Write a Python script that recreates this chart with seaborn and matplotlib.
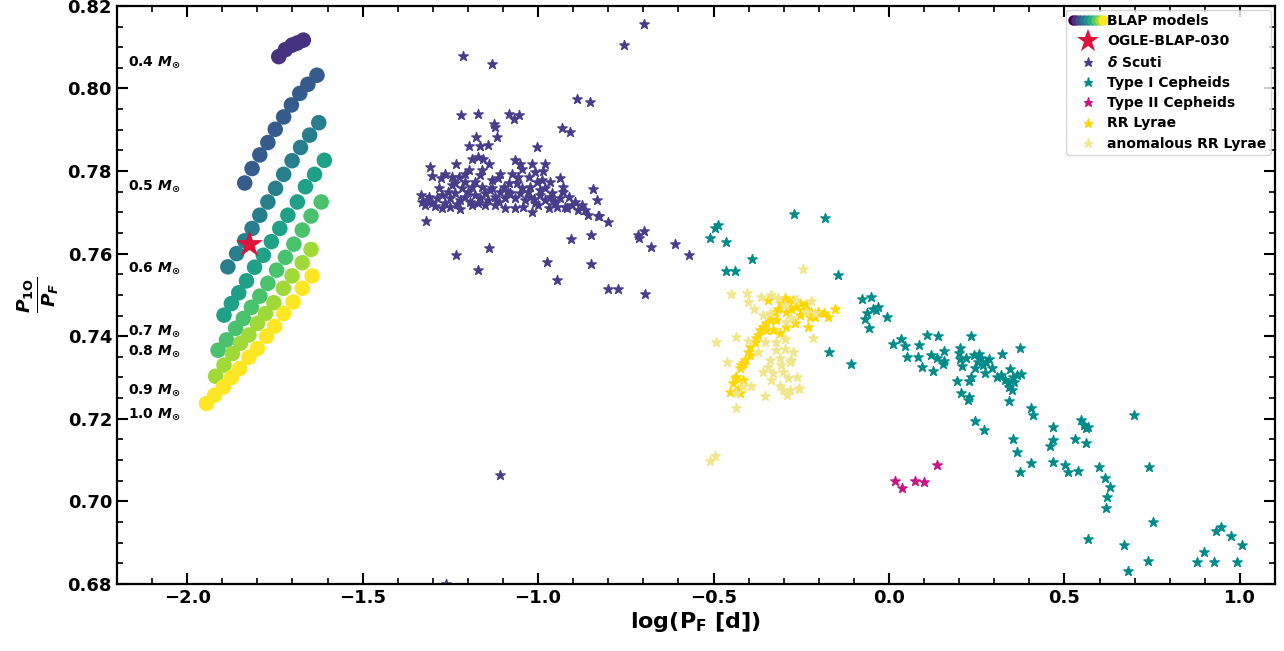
import numpy as np
import pandas as pd
import seaborn as sns
import matplotlib
matplotlib.use("Agg")
import matplotlib.pyplot as plt
from matplotlib.lines import Line2D
from matplotlib.legend_handler import HandlerTuple
from matplotlib.ticker import MultipleLocator


# BLAP model tracks, (log P_F, P_1O / P_F) per model mass
blap_04 = [(-1.739, 0.8077), (-1.720, 0.8094), (-1.701, 0.8105), (-1.686, 0.8110), (-1.669, 0.8117)]
blap_05 = [(-1.836, 0.7771), (-1.815, 0.7806), (-1.793, 0.7839), (-1.770, 0.7869), (-1.749, 0.7901),
           (-1.725, 0.7931), (-1.703, 0.7960), (-1.679, 0.7988), (-1.656, 0.8010), (-1.630, 0.8032)]
blap_06 = [(-1.884, 0.7568), (-1.859, 0.7600), (-1.836, 0.7631), (-1.815, 0.7661), (-1.793, 0.7693),
           (-1.770, 0.7725), (-1.748, 0.7758), (-1.725, 0.7792), (-1.701, 0.7825), (-1.677, 0.7857),
           (-1.651, 0.7887), (-1.625, 0.7917)]
blap_07 = [(-1.895, 0.7451), (-1.874, 0.7479), (-1.853, 0.7505), (-1.831, 0.7534), (-1.808, 0.7567),
           (-1.783, 0.7596), (-1.760, 0.7629), (-1.736, 0.7661), (-1.713, 0.7693), (-1.686, 0.7725),
           (-1.663, 0.7762), (-1.637, 0.7792), (-1.609, 0.7826)]
blap_08 = [(-1.912, 0.7366), (-1.888, 0.7391), (-1.862, 0.7419), (-1.840, 0.7443), (-1.817, 0.7470),
           (-1.793, 0.7497), (-1.770, 0.7528), (-1.745, 0.7560), (-1.720, 0.7591), (-1.696, 0.7623),
           (-1.672, 0.7657), (-1.647, 0.7691), (-1.618, 0.7725)]
blap_09 = [(-1.919, 0.7303), (-1.895, 0.7330), (-1.871, 0.7358), (-1.848, 0.7383), (-1.824, 0.7403),
           (-1.800, 0.7431), (-1.777, 0.7455), (-1.753, 0.7481), (-1.726, 0.7516), (-1.701, 0.7546),
           (-1.672, 0.7578), (-1.647, 0.7610)]
blap_10 = [(-1.945, 0.7237), (-1.922, 0.7257), (-1.897, 0.7277), (-1.874, 0.7300), (-1.850, 0.7322),
           (-1.824, 0.7349), (-1.800, 0.7370), (-1.774, 0.7400), (-1.751, 0.7424), (-1.725, 0.7455),
           (-1.698, 0.7483), (-1.672, 0.7516), (-1.644, 0.7546)]
masses = [0.4, 0.5, 0.6, 0.7, 0.8, 0.9, 1.0]
mass_label_y = [0.8064, 0.7764, 0.7564, 0.7413, 0.7364, 0.7269, 0.7210]

# OGLE-BLAP-030
ogle_logp = [-1.824]
ogle_ratio = [0.7623]

# delta Scuti stars
dsct = [(-0.698, 0.8156), (-0.755, 0.8104), (-1.213, 0.8078), (-1.131, 0.8059), (-0.889, 0.7974),
        (-0.852, 0.7968), (-1.221, 0.7936), (-1.170, 0.7939), (-1.083, 0.7939), (-1.053, 0.7935),
        (-1.069, 0.7925), (-1.125, 0.7914), (-1.124, 0.7906), (-0.931, 0.7903), (-0.908, 0.7894),
        (-1.178, 0.7883), (-1.116, 0.7883), (-1.196, 0.7860), (-1.165, 0.7860), (-1.144, 0.7863),
        (-1.004, 0.7857), (-1.309, 0.7810), (-1.302, 0.7788), (-1.234, 0.7817), (-1.188, 0.7830),
        (-1.170, 0.7833), (-1.156, 0.7828), (-1.141, 0.7817), (-0.937, 0.7782), (-0.928, 0.7762),
        (-0.844, 0.7756), (-0.831, 0.7730), (-0.826, 0.7692), (-0.802, 0.7676), (-1.318, 0.7679),
        (-0.906, 0.7635), (-0.850, 0.7645), (-1.139, 0.7613), (-1.235, 0.7597), (-1.171, 0.7561),
        (-0.975, 0.7579), (-0.849, 0.7574), (-0.947, 0.7536), (-0.800, 0.7514), (-0.772, 0.7515),
        (-0.696, 0.7502), (-0.716, 0.7645), (-0.712, 0.7638), (-0.698, 0.7655), (-0.679, 0.7616),
        (-0.609, 0.7624), (-0.571, 0.7597), (-1.108, 0.7063), (-1.262, 0.6800),
        # dense core
        (-1.335, 0.7742), (-1.331, 0.7726), (-1.316, 0.7730), (-1.302, 0.7722), (-1.288, 0.7734),
        (-1.274, 0.7742), (-1.264, 0.7722), (-1.250, 0.7734), (-1.236, 0.7746), (-1.222, 0.7730),
        (-1.207, 0.7738), (-1.193, 0.7726), (-1.179, 0.7742), (-1.165, 0.7734), (-1.150, 0.7746),
        (-1.136, 0.7754), (-1.122, 0.7738), (-1.108, 0.7750), (-1.094, 0.7734), (-1.079, 0.7746),
        (-1.065, 0.7734), (-1.051, 0.7746), (-1.037, 0.7730), (-1.022, 0.7738), (-1.008, 0.7722),
        (-0.994, 0.7742), (-0.980, 0.7730), (-0.966, 0.7738), (-0.951, 0.7722), (-0.937, 0.7734),
        (-0.923, 0.7714), (-0.904, 0.7718), (-0.895, 0.7726), (-0.885, 0.7706), (-0.866, 0.7706),
        (-0.859, 0.7693), (-0.828, 0.7691), (-1.321, 0.7718), (-1.274, 0.7710), (-1.250, 0.7714),
        (-1.222, 0.7707), (-1.188, 0.7718), (-1.150, 0.7718), (-1.122, 0.7718), (-1.094, 0.7710),
        (-1.065, 0.7710), (-1.042, 0.7714), (-1.018, 0.7701), (-0.999, 0.7718), (-0.970, 0.7710),
        (-0.947, 0.7714), (-0.918, 0.7710), (-1.160, 0.7762), (-1.188, 0.7762), (-1.217, 0.7758),
        (-1.245, 0.7766), (-1.283, 0.7758), (-1.132, 0.7758), (-1.098, 0.7762), (-1.207, 0.7774),
        (-1.236, 0.7770), (-1.160, 0.7802), (-1.165, 0.7790), (-1.179, 0.7774), (-1.207, 0.7794),
        (-1.198, 0.7802), (-1.264, 0.7794), (-1.245, 0.7786), (-1.226, 0.7786), (-1.278, 0.7782),
        (-1.108, 0.7794), (-1.113, 0.7782), (-1.132, 0.7778), (-1.075, 0.7794), (-1.056, 0.7786),
        (-1.084, 0.7770), (-1.060, 0.7770), (-1.046, 0.7758), (-1.027, 0.7786), (-1.022, 0.7762),
        (-1.004, 0.7774), (-0.994, 0.7754), (-0.980, 0.7758), (-0.961, 0.7746), (-0.966, 0.7774),
        (-0.989, 0.7778), (-1.065, 0.7827), (-1.051, 0.7818), (-1.046, 0.7806), (-1.018, 0.7816),
        (-0.980, 0.7816), (-1.008, 0.7798), (-0.987, 0.7801),
        (-1.310, 0.7736), (-1.294, 0.7716), (-1.258, 0.7750), (-1.230, 0.7720), (-1.200, 0.7748),
        (-1.172, 0.7722), (-1.143, 0.7730), (-1.110, 0.7724), (-1.086, 0.7748), (-1.030, 0.7748),
        (-1.012, 0.7732), (-0.958, 0.7728), (-0.930, 0.7750), (-0.912, 0.7736), (-0.876, 0.7718)]

# type I (classical) Cepheids
cep1 = [(-0.272, 0.7696), (-0.182, 0.7687), (-0.497, 0.7661), (-0.487, 0.7669), (-0.511, 0.7637),
        (-0.465, 0.7627), (-0.390, 0.7586), (-0.465, 0.7557), (-0.440, 0.7558), (-0.145, 0.7547),
        (-0.172, 0.7361), (-0.108, 0.7333), (-0.078, 0.7490), (-0.052, 0.7494), (-0.063, 0.7455),
        (-0.046, 0.7467), (-0.032, 0.7471), (-0.037, 0.7463), (-0.067, 0.7441), (-0.057, 0.7421),
        (-0.005, 0.7447), (0.011, 0.7381), (0.033, 0.7394), (0.045, 0.7377), (0.050, 0.7349),
        (0.085, 0.7378), (0.084, 0.7350), (0.108, 0.7403), (0.139, 0.7400), (0.093, 0.7325),
        (0.120, 0.7354), (0.136, 0.7348), (0.126, 0.7316), (0.156, 0.7363), (0.158, 0.7341),
        (0.153, 0.7333), (0.235, 0.7400), (0.202, 0.7371), (0.199, 0.7360), (0.202, 0.7345),
        (0.219, 0.7346), (0.208, 0.7328), (0.194, 0.7291), (0.205, 0.7263), (0.227, 0.7252),
        (0.224, 0.7245), (0.241, 0.7354), (0.257, 0.7357), (0.262, 0.7346), (0.253, 0.7338),
        (0.246, 0.7322), (0.234, 0.7302), (0.229, 0.7291), (0.267, 0.7330), (0.276, 0.7338),
        (0.284, 0.7344), (0.293, 0.7322), (0.274, 0.7310), (0.322, 0.7357), (0.307, 0.7300),
        (0.319, 0.7306), (0.331, 0.7294), (0.338, 0.7286), (0.343, 0.7276), (0.350, 0.7270),
        (0.357, 0.7290), (0.366, 0.7306), (0.376, 0.7308), (0.345, 0.7320), (0.352, 0.7302),
        (0.373, 0.7371), (0.343, 0.7243), (0.406, 0.7225), (0.409, 0.7209), (0.244, 0.7194),
        (0.271, 0.7173), (0.352, 0.7150), (0.364, 0.7120), (0.406, 0.7092), (0.373, 0.7070),
        (0.468, 0.7181), (0.466, 0.7149), (0.458, 0.7135), (0.468, 0.7095), (0.502, 0.7087),
        (0.511, 0.7072), (0.540, 0.7074), (0.529, 0.7151), (0.562, 0.7142), (0.546, 0.7197),
        (0.556, 0.7185), (0.561, 0.7177), (0.568, 0.7181), (0.599, 0.7084), (0.697, 0.7209),
        (0.616, 0.7057), (0.631, 0.7035), (0.622, 0.7011), (0.618, 0.6984), (0.741, 0.7084),
        (0.751, 0.6950), (0.567, 0.6910), (0.671, 0.6895), (0.682, 0.6831), (0.738, 0.6856),
        (0.878, 0.6854), (0.899, 0.6878), (0.925, 0.6853), (0.931, 0.6929), (0.945, 0.6937),
        (0.974, 0.6916), (0.993, 0.6853), (1.005, 0.6895)]

# type II Cepheids
cep2 = [(0.018, 0.7049), (0.037, 0.7032), (0.073, 0.7050), (0.101, 0.7046), (0.137, 0.7087)]

# RR Lyrae
rrl = [(-0.454, 0.7266), (-0.444, 0.7286), (-0.435, 0.7302), (-0.425, 0.7322), (-0.416, 0.7334),
       (-0.411, 0.7342), (-0.402, 0.7362), (-0.397, 0.7375), (-0.383, 0.7387), (-0.373, 0.7403),
       (-0.368, 0.7415), (-0.359, 0.7423), (-0.350, 0.7431), (-0.340, 0.7439), (-0.335, 0.7451),
       (-0.326, 0.7459), (-0.316, 0.7467), (-0.307, 0.7480), (-0.297, 0.7492), (-0.288, 0.7480),
       (-0.274, 0.7488), (-0.264, 0.7471), (-0.255, 0.7480), (-0.245, 0.7463), (-0.236, 0.7475),
       (-0.222, 0.7459), (-0.212, 0.7447), (-0.226, 0.7447), (-0.255, 0.7451), (-0.269, 0.7431),
       (-0.293, 0.7423), (-0.312, 0.7407), (-0.330, 0.7415), (-0.345, 0.7488), (-0.231, 0.7423),
       (-0.184, 0.7455), (-0.174, 0.7447), (-0.155, 0.7467), (-0.203, 0.7459), (-0.416, 0.7294),
       (-0.430, 0.7270), (-0.440, 0.7298), (-0.421, 0.7330), (-0.397, 0.7354), (-0.378, 0.7395),
       (-0.350, 0.7415), (-0.321, 0.7439), (-0.293, 0.7459), (-0.278, 0.7467), (-0.425, 0.7262)]

# anomalous RR Lyrae
arrl = [(-0.451, 0.7502), (-0.406, 0.7504), (-0.402, 0.7484), (-0.364, 0.7496), (-0.335, 0.7500),
        (-0.316, 0.7492), (-0.264, 0.7488), (-0.222, 0.7486), (-0.385, 0.7465), (-0.359, 0.7451),
        (-0.340, 0.7455), (-0.297, 0.7475), (-0.236, 0.7459), (-0.212, 0.7455), (-0.278, 0.7443),
        (-0.293, 0.7435), (-0.492, 0.7387), (-0.435, 0.7397), (-0.403, 0.7388), (-0.354, 0.7385),
        (-0.323, 0.7385), (-0.295, 0.7393), (-0.217, 0.7395), (-0.373, 0.7362), (-0.321, 0.7366),
        (-0.295, 0.7370), (-0.274, 0.7362), (-0.340, 0.7342), (-0.312, 0.7346), (-0.278, 0.7342),
        (-0.461, 0.7338), (-0.345, 0.7326), (-0.307, 0.7330), (-0.283, 0.7338), (-0.359, 0.7314),
        (-0.330, 0.7310), (-0.302, 0.7314), (-0.335, 0.7294), (-0.288, 0.7298), (-0.262, 0.7300),
        (-0.416, 0.7279), (-0.392, 0.7279), (-0.312, 0.7279), (-0.302, 0.7270), (-0.281, 0.7270),
        (-0.256, 0.7274), (-0.435, 0.7262), (-0.354, 0.7255), (-0.291, 0.7258), (-0.437, 0.7225),
        (-0.245, 0.7562), (-0.511, 0.7097), (-0.497, 0.7109), (-0.257, 0.7272)]


def to_df(points):
    return pd.DataFrame(points, columns=["logP", "ratio"])


sns.set_theme(style="ticks")
plt.rcParams["font.family"] = ["DejaVu Sans"]
plt.rcParams["font.weight"] = "bold"
plt.rcParams["axes.labelweight"] = "bold"
plt.rcParams["text.color"] = "black"
plt.rcParams["axes.labelcolor"] = "black"

fig, ax = plt.subplots(figsize=(12.84, 6.51), dpi=100)
fig.subplots_adjust(left=0.0911, right=0.993, top=0.991, bottom=0.103)

# BLAP tracks coloured by mass
tracks = [blap_04, blap_05, blap_06, blap_07, blap_08, blap_09, blap_10]
blap_df = pd.concat([to_df(t).assign(mass=m) for t, m in zip(tracks, masses)], ignore_index=True)
sns.scatterplot(data=blap_df, x="logP", y="ratio", hue="mass", palette="viridis",
                hue_norm=(0.3, 1.0), s=125, linewidth=0, legend=False, ax=ax, zorder=3)

# observed pulsators, one colour per class
classes = [(dsct, "#483D8B"), (cep1, "#008B8B"), (cep2, "#C71585"), (rrl, "#FFD700"), (arrl, "#F0E68C")]
for pts, col in classes:
    sns.scatterplot(data=to_df(pts), x="logP", y="ratio", marker="*", s=50, color=col,
                    edgecolor=col, linewidth=1.0, ax=ax, zorder=2)

sns.scatterplot(x=ogle_logp, y=ogle_ratio, marker="*", s=420, color="#DC143C",
                linewidth=0, ax=ax, zorder=5)

for m, yl in zip(masses, mass_label_y):
    ax.text(-2.168, yl, f"{m:.1f} " + r"$\mathbfit{M}_{\odot}$", fontsize=10,
            fontweight="bold", color="black", ha="left", va="center")

ax.set_xlim(-2.2, 1.1)
ax.set_ylim(0.68, 0.82)
ax.xaxis.set_major_locator(MultipleLocator(0.5))
ax.xaxis.set_minor_locator(MultipleLocator(0.1))
ax.yaxis.set_major_locator(MultipleLocator(0.02))
ax.yaxis.set_minor_locator(MultipleLocator(0.005))
ax.yaxis.set_major_formatter(plt.FormatStrFormatter("%.2f"))
ax.tick_params(which="both", direction="in", top=True, right=True, width=1.5,
               colors="black", labelcolor="black")
ax.tick_params(which="major", length=8, labelsize=13)
ax.tick_params(which="minor", length=4, width=1.2)
for sp in ax.spines.values():
    sp.set_linewidth(1.6)
    sp.set_color("black")

ax.set_xlabel(r"$\mathbf{log(P_F\ [d])}$", fontsize=16, labelpad=2)
ax.set_ylabel(r"$\frac{\mathbfit{P}_{\mathbf{1O}}}{\mathbfit{P}_{\mathbfit{F}}}$", fontsize=19, labelpad=5)

viridis = plt.get_cmap("viridis")
blap_handle = tuple(Line2D([], [], marker="o", ls="none", color=viridis(c), markersize=7.5,
                           markeredgewidth=0) for c in np.linspace(0, 1, 9))
handles = [blap_handle,
           Line2D([], [], marker="*", ls="none", color="#DC143C", markersize=17, markeredgewidth=0)]
handles += [Line2D([], [], marker="*", ls="none", color=col, markeredgecolor=col,
                   markeredgewidth=0.9, markersize=6.5) for _, col in classes]
labels = ["BLAP models", "OGLE-BLAP-030", r"$\mathbfit{\delta}$ Scuti", "Type I Cepheids",
          "Type II Cepheids", "RR Lyrae", "anomalous RR Lyrae"]
ax.legend(handles, labels, loc="upper right", handler_map={tuple: HandlerTuple(ndivide=None, pad=0)},
          prop={"weight": "bold", "size": 10}, handlelength=2.5, handletextpad=0.15,
          labelspacing=0.45, borderaxespad=0.3, borderpad=0.3, framealpha=0.8)

fig.savefig("out.png", dpi=100)
